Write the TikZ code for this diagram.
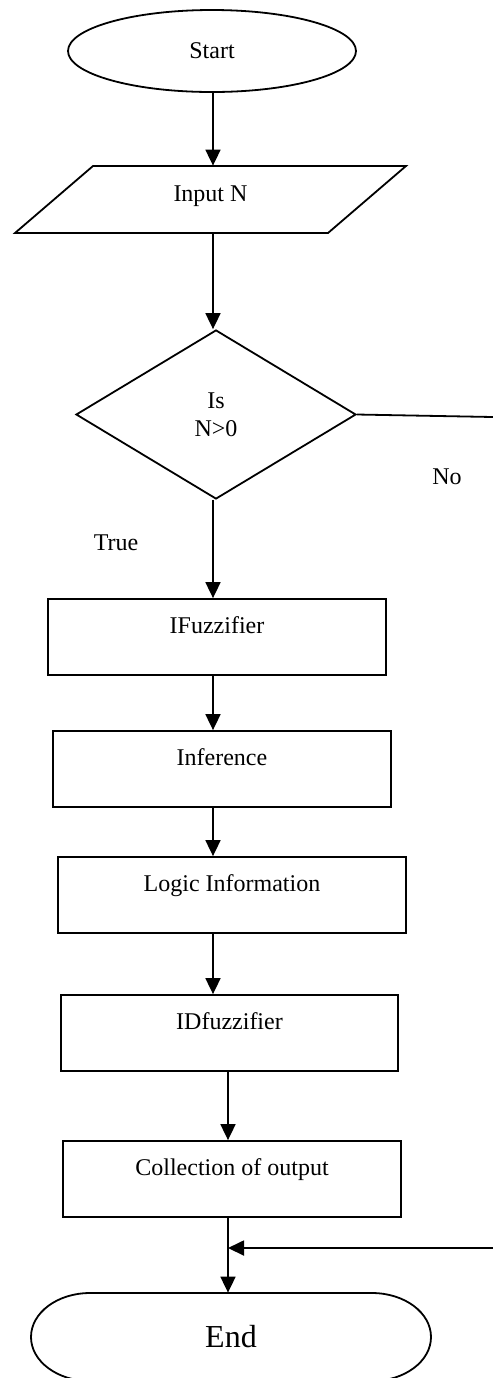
\documentclass[tikz,border=0pt]{standalone}
\usepackage{fontspec}
\setmainfont{Liberation Serif}
\usetikzlibrary{arrows.meta,shapes.geometric}
\begin{document}
\begin{tikzpicture}[x=0.5pt,y=-0.5pt,
  every node/.style={font=\fontsize{12}{14}\selectfont},
  line/.style={line width=0.9pt},
  arr/.style={line width=0.9pt, -{Triangle[length=8pt,width=7.5pt]}},
  proc/.style={draw, line width=0.9pt, rectangle, inner sep=0pt, text height=17pt, text depth=21pt},
  lbl/.style={inner sep=0pt}]
\useasboundingbox (0,0) rectangle (493,1378);
\coordinate (axa) at (213,0);
\coordinate (axb) at (228,0);
% nodes
\node[draw, line width=0.9pt, ellipse, minimum width=144pt, minimum height=41pt, inner sep=0pt] (start) at (212,51) {Start};
\node[lbl, minimum width=156.5pt, text height=17.5pt, text depth=16pt] (inp) at (210.5,199.5) {Input N};
\draw[line] (93,166) -- (406,166) -- (328,233) -- (15,233) -- cycle;
\node[draw, line width=0.9pt, diamond, minimum width=140pt, minimum height=84.5pt, inner sep=0pt, align=center] (dia) at (216,414.5) {Is\\N>0};
\node[proc, minimum width=169pt] (ifz) at (217,637) {IFuzzifier};
\node[proc, minimum width=169pt] (inf) at (222,769) {Inference};
\node[proc, minimum width=174pt] (log) at (232,895) {Logic Information};
\node[proc, minimum width=168.5pt] (idf) at (229.5,1033) {IDfuzzifier};
\node[proc, minimum width=169pt] (col) at (232,1179) {Collection of output};
\node[lbl, minimum width=200pt, minimum height=44pt, font=\fontsize{16}{19}\selectfont] (end) at (231,1337) {End};
\draw[line] (90,1293) -- (372,1293)
  .. controls (404.6,1293) and (431,1312.7) .. (431,1337)
  .. controls (431,1361.3) and (404.6,1381) .. (372,1381)
  -- (90,1381)
  .. controls (57.4,1381) and (31,1361.3) .. (31,1337)
  .. controls (31,1312.7) and (57.4,1293) .. (90,1293) -- cycle;
\node[lbl] (no) at (447,477) {No};
\node[lbl] (true) at (116,543) {True};
\coordinate (r1) at (493,417);
\coordinate (r2) at (493,1248);
% connectors
\draw[arr] (start.south -| axa) -- (inp.north -| axa);
\draw[arr] (inp.south -| axa) -- (dia.north -| axa);
\draw[arr] (dia.south -| axa) -- (ifz.north -| axa);
\draw[arr] (ifz.south -| axa) -- (inf.north -| axa);
\draw[arr] (inf.south -| axa) -- (log.north -| axa);
\draw[arr] (log.south -| axa) -- (idf.north -| axa);
\draw[arr] (idf.south -| axb) -- (col.north -| axb);
\draw[arr] (col.south -| axb) -- (end.north -| axb);
\draw[line] (dia.east) -- (r1);
\draw[arr] (r2) -- (r2 -| axb);
\end{tikzpicture}
\end{document}
